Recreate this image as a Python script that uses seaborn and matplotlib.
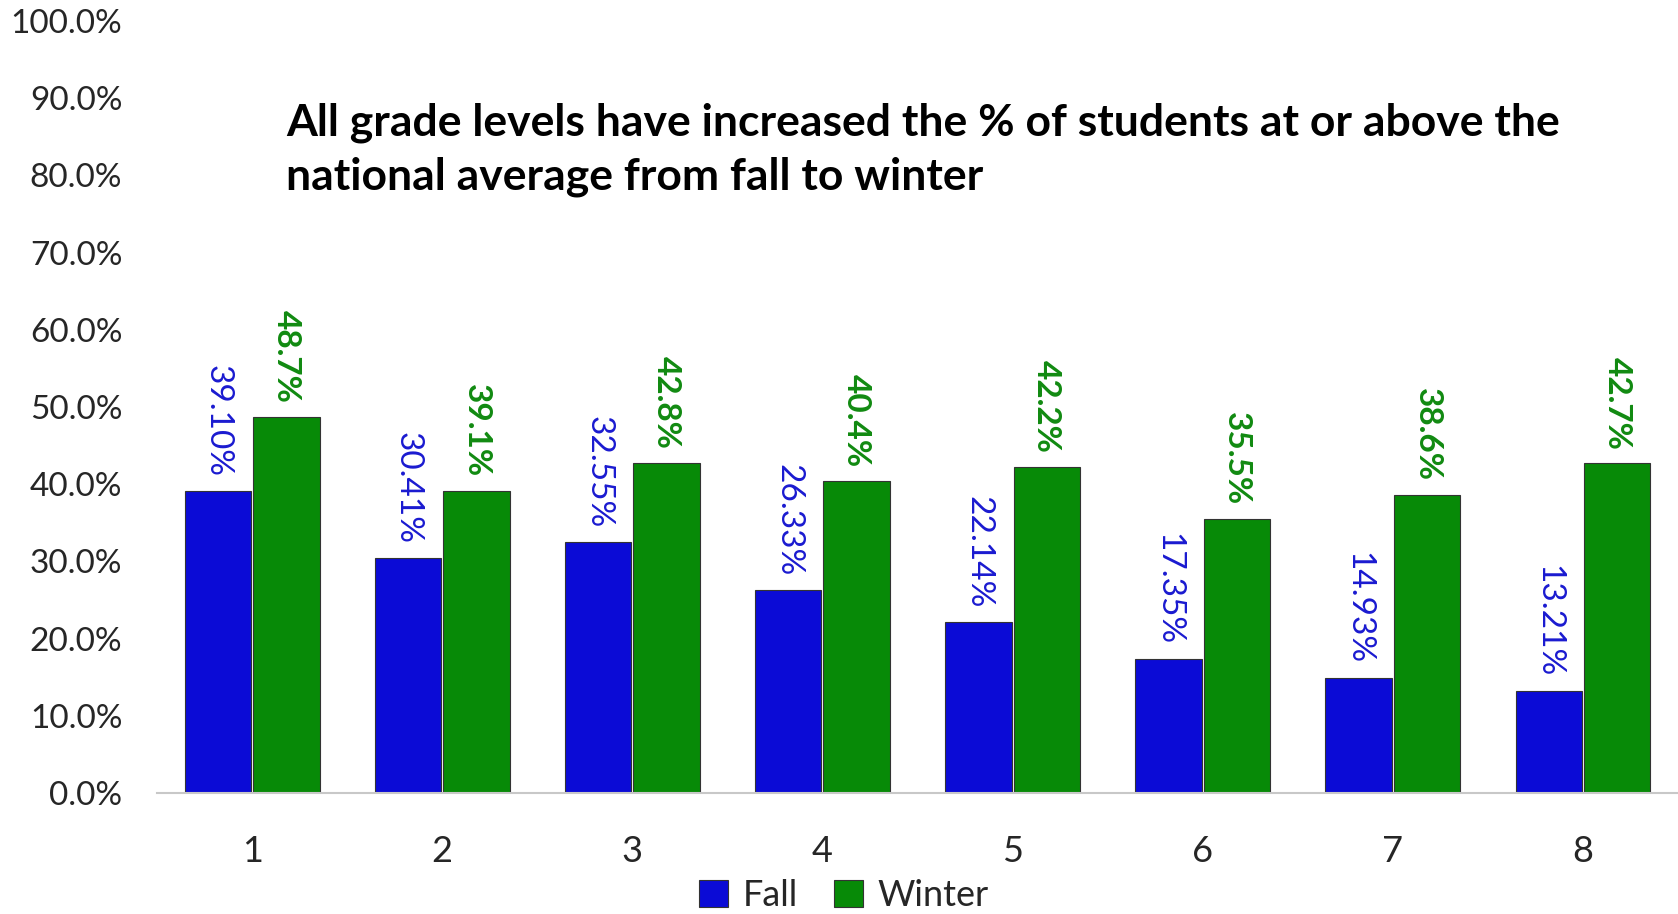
import numpy as np
import pandas as pd
import matplotlib
matplotlib.use("Agg")
import matplotlib.pyplot as plt
import seaborn as sns
from matplotlib.ticker import FuncFormatter

# ==========================================================
# DATA
# ==========================================================
grades = ["1", "2", "3", "4", "5", "6", "7", "8"]
fall = [39.10, 30.41, 32.55, 26.33, 22.14, 17.35, 14.93, 13.21]
winter = [48.7, 39.1, 42.8, 40.4, 42.2, 35.5, 38.6, 42.7]
seasons = ["Fall", "Winter"]

title = ("All grade levels have increased the % of students at or above the\n"
         "national average from fall to winter")

df = pd.DataFrame({
    "grade": grades * 2,
    "season": ["Fall"] * len(grades) + ["Winter"] * len(grades),
    "pct": fall + winter,
})

# ==========================================================
# STYLE
# ==========================================================
sns.set_theme(style="white")
plt.rcParams["font.family"] = ["Lato", "DejaVu Sans"]

bar_colors = {"Fall": "#0b0bd6", "Winter": "#078a07"}
label_colors = {"Fall": "#1a1ad0", "Winter": "#118a11"}

fig = plt.figure(figsize=(16.78, 9.14), dpi=100)
ax = fig.add_axes([0.0936, 0.1324, 0.9064, 0.8446])

sns.barplot(
    data=df, x="grade", y="pct", hue="season", order=grades,
    hue_order=seasons, palette=bar_colors, width=0.72, gap=0.03,
    edgecolor="#333333", linewidth=0.8, saturation=1, ax=ax,
)

# data labels, rotated to read top-down
for cont, season in zip(ax.containers, seasons):
    fmt = "{:.2f}%" if season == "Fall" else "{:.1f}%"
    ax.bar_label(
        cont, labels=[fmt.format(v) for v in cont.datavalues],
        rotation=270, padding=10, fontsize=24,
        color=label_colors[season],
        fontweight="normal" if season == "Fall" else "bold",
    )

ax.set_ylim(0, 100)
ax.set_xlim(-0.5, 7.5)
ax.set_yticks(np.arange(0, 101, 10))
ax.yaxis.set_major_formatter(FuncFormatter(lambda v, p: f"{v:.1f}%"))
ax.tick_params(axis="y", length=0, pad=25, labelsize=24)
ax.tick_params(axis="x", length=0, pad=30, labelsize=26)
ax.set_xlabel("")
ax.set_ylabel("")

for side in ["left", "right", "top"]:
    ax.spines[side].set_visible(False)
ax.spines["bottom"].set_color("#c8c8c8")
ax.spines["bottom"].set_linewidth(1.5)

fig.text(0.1705, 0.836, title, fontsize=32, fontweight="bold",
         ha="left", va="center", linespacing=1.42, color="black")

ax.legend_.remove()
handles = [plt.Rectangle((0, 0), 1, 1, facecolor=bar_colors[s],
                         edgecolor="#333333", linewidth=0.8) for s in seasons]
fig.legend(handles, seasons, loc="center", bbox_to_anchor=(0.503, 0.02),
           ncol=2, frameon=False, fontsize=26, handlelength=0.8,
           handleheight=0.8, handletextpad=0.4, columnspacing=1.0)

fig.savefig("out.png", dpi=100)
